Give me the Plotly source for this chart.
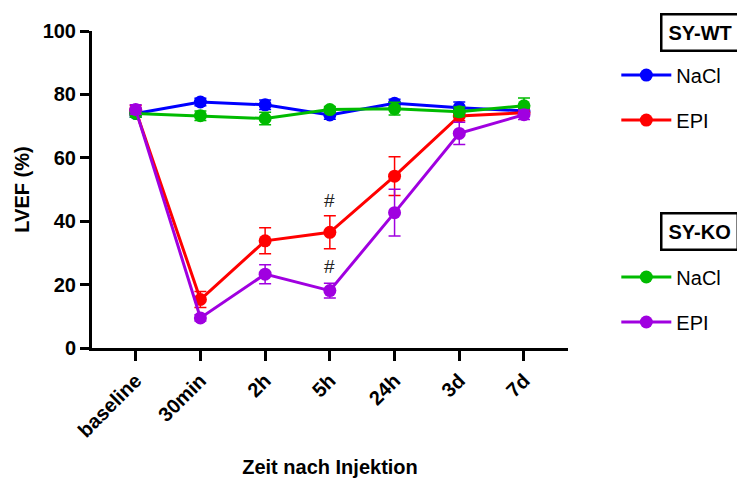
import plotly.graph_objects as go

categories = ["baseline", "30min", "2h", "5h", "24h", "3d", "7d"]

wt_nacl = [74.0, 77.6, 76.7, 73.5, 77.2, 75.8, 74.8]
wt_nacl_err = [1.2, 1.2, 1.5, 1.3, 1.3, 1.8, 1.2]

wt_epi = [75.0, 15.3, 33.8, 36.5, 54.2, 73.2, 74.2]
wt_epi_err = [1.5, 2.5, 4.1, 5.2, 6.1, 1.5, 1.0]

ko_nacl = [74.0, 73.3, 72.4, 75.2, 75.5, 74.5, 76.4]
ko_nacl_err = [1.2, 1.5, 2.0, 1.0, 2.0, 1.5, 2.5]

ko_epi = [75.2, 9.5, 23.3, 18.1, 42.7, 67.7, 73.6]
ko_epi_err = [1.5, 1.0, 3.0, 2.3, 7.4, 3.5, 1.5]

hash_points = [("5h", 46.5), ("5h", 25.8)]

FONT = "Arial, Liberation Sans, sans-serif"

series = [
    ("NaCl", wt_nacl, wt_nacl_err, "#0000ff", "legend"),
    ("EPI", wt_epi, wt_epi_err, "#ff0000", "legend2"),
    ("NaCl", ko_nacl, ko_nacl_err, "#00bb00", "legend3"),
    ("EPI", ko_epi, ko_epi_err, "#a000e0", "legend4"),
]

fig = go.Figure()
idx = list(range(len(categories)))
for name, vals, errs, color, leg in series:
    fig.add_trace(go.Scatter(
        x=idx, y=vals, name=name, mode="lines+markers",
        line=dict(color=color, width=3),
        marker=dict(color=color, size=13),
        error_y=dict(type="data", array=errs, visible=True, color=color,
                     thickness=1.5, width=6),
        legend=leg, showlegend=True,
    ))

annotations = []
for cat, yv in hash_points:
    annotations.append(dict(x=categories.index(cat), y=yv, xref="x", yref="y",
                            text="#", showarrow=False,
                            font=dict(family=FONT, size=19, color="#222")))

for label, ypos in [("SY-WT", 0.995), ("SY-KO", 0.369)]:
    annotations.append(dict(x=1.1928, y=ypos, xref="paper", yref="paper",
                            xanchor="left", yanchor="middle",
                            text="<b>%s</b>" % label, showarrow=False,
                            font=dict(family=FONT, size=20, color="black"),
                            bordercolor="black", borderwidth=2.5, borderpad=6,
                            bgcolor="white"))

legend_common = dict(x=1.1015, xanchor="left", yanchor="middle",
                     font=dict(family=FONT, size=20, color="black"),
                     bgcolor="rgba(0,0,0,0)", borderwidth=0, itemwidth=50)

fig.update_layout(
    width=737, height=480,
    margin=dict(l=92, r=169, t=31, b=132, autoexpand=False),
    paper_bgcolor="white", plot_bgcolor="white",
    font=dict(family=FONT, color="black"),
    xaxis=dict(
        range=[-0.675, 6.68], tickvals=idx, ticktext=categories,
        tickangle=-45, showgrid=False, zeroline=False, automargin=False,
        showline=True, linecolor="black", linewidth=3,
        ticks="outside", ticklen=10, tickwidth=3, tickcolor="black",
        tickfont=dict(family=FONT, size=20, color="black", weight="bold"),
        title=dict(text="<b>Zeit nach Injektion</b>",
                   font=dict(family=FONT, size=20, color="black"), standoff=20),
    ),
    yaxis=dict(
        range=[0, 100], tickvals=[0, 20, 40, 60, 80, 100],
        showgrid=False, zeroline=False, automargin=False,
        showline=True, linecolor="black", linewidth=3,
        ticks="outside", ticklen=9, tickwidth=3, tickcolor="black",
        tickfont=dict(family=FONT, size=20, color="black", weight="bold"),
        title=dict(text="<b>LVEF (%)</b>",
                   font=dict(family=FONT, size=20, color="black"), standoff=8),
    ),
    legend=dict(y=0.861, **legend_common),
    legend2=dict(y=0.719, **legend_common),
    legend3=dict(y=0.224, **legend_common),
    legend4=dict(y=0.082, **legend_common),
    annotations=annotations,
)

fig.write_html("out.html", config={"displayModeBar": False},
               post_script="document.body.style.margin='0';")
